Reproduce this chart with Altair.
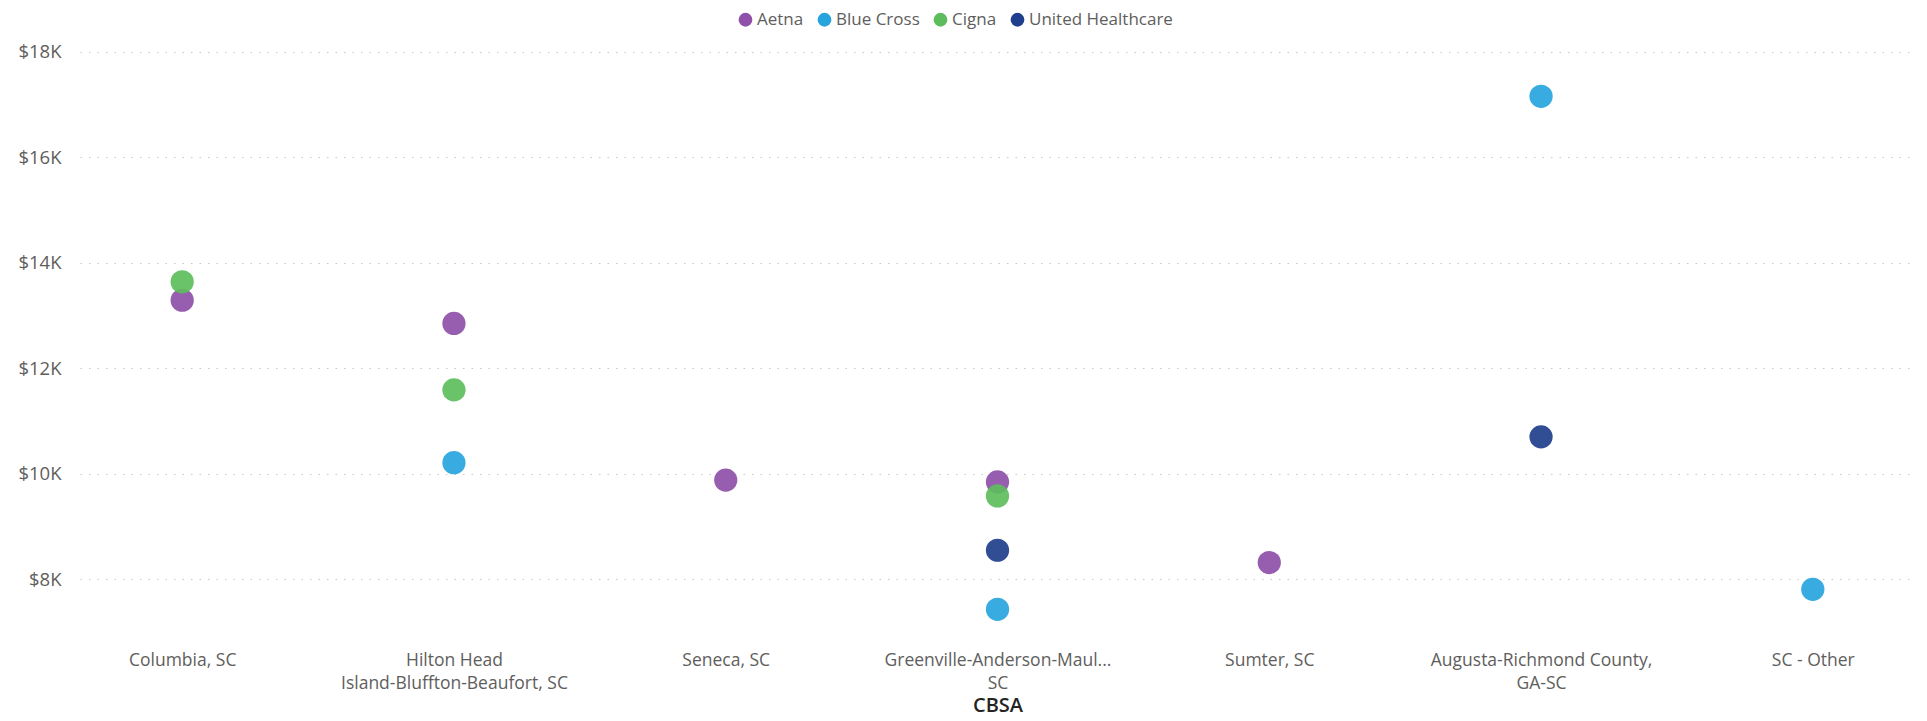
import altair as alt
import pandas as pd

# Categories (x axis), display lines separated by "|"
cbsa = [
    "Columbia, SC",
    "Hilton Head|Island-Bluffton-Beaufort, SC",
    "Seneca, SC",
    "Greenville-Anderson-Maul...|SC",
    "Sumter, SC",
    "Augusta-Richmond County,|GA-SC",
    "SC - Other",
]
insurers = ["Aetna", "Blue Cross", "Cigna", "United Healthcare"]
colors = ["#8E50A8", "#27A4DE", "#5DBD5C", "#1F3F8C"]

# Points
point_cbsa = [
    "Columbia, SC", "Columbia, SC",
    "Hilton Head|Island-Bluffton-Beaufort, SC", "Hilton Head|Island-Bluffton-Beaufort, SC",
    "Hilton Head|Island-Bluffton-Beaufort, SC",
    "Seneca, SC",
    "Greenville-Anderson-Maul...|SC", "Greenville-Anderson-Maul...|SC",
    "Greenville-Anderson-Maul...|SC", "Greenville-Anderson-Maul...|SC",
    "Sumter, SC",
    "Augusta-Richmond County,|GA-SC", "Augusta-Richmond County,|GA-SC",
    "SC - Other",
]
point_insurer = [
    "Aetna", "Cigna",
    "Aetna", "Cigna", "Blue Cross",
    "Aetna",
    "Aetna", "Cigna", "United Healthcare", "Blue Cross",
    "Aetna",
    "Blue Cross", "United Healthcare",
    "Blue Cross",
]
point_value = [
    13290, 13640,
    12850, 11590, 10210,
    9880,
    9845, 9580, 8550, 7430,
    8317,
    17156, 10700,
    7810,
]

df = pd.DataFrame({"CBSA": point_cbsa, "Insurer": point_insurer, "Value": point_value})

y_ticks = [8000, 10000, 12000, 14000, 16000, 18000]

chart = (
    alt.Chart(df)
    .mark_circle(size=540, opacity=0.92)
    .encode(
        x=alt.X(
            "CBSA:N",
            sort=cbsa,
            scale=alt.Scale(domain=cbsa, type="point", padding=0.376),
            axis=alt.Axis(
                title="CBSA",
                labelAngle=0,
                labelExpr="split(datum.label, '|')",
                labelFont="Open Sans",
                labelFontSize=17.5,
                labelColor="#605E5C",
                labelLineHeight=23,
                labelPadding=19,
                labelLimit=0,
                ticks=False,
                domain=False,
                grid=False,
                titleFont="Open Sans",
                titleFontSize=20,
                titleFontWeight=600,
                titleColor="#252423",
                titleBaseline="alphabetic",
                titleY=79,
            ),
        ),
        y=alt.Y(
            "Value:Q",
            scale=alt.Scale(domain=[7000, 18300], nice=False, zero=False),
            axis=alt.Axis(
                title=None,
                values=y_ticks,
                labelExpr="'$' + datum.value / 1000 + 'K'",
                labelFont="Open Sans",
                labelFontSize=18.5,
                labelColor="#605E5C",
                labelPadding=19,
                ticks=False,
                domain=False,
                grid=True,
                gridColor="#C8C8C8",
                gridDash=[1.5, 7],
                gridWidth=1,
            ),
        ),
        color=alt.Color(
            "Insurer:N",
            scale=alt.Scale(domain=insurers, range=colors),
            legend=alt.Legend(
                title=None,
                orient="none",
                direction="horizontal",
                legendX=657,
                legendY=-25,
                symbolType="circle",
                symbolSize=190,
                symbolOpacity=1,
                labelFont="Open Sans",
                labelFontSize=17,
                labelColor="#605E5C",
                labelOffset=3,
                labelLimit=0,
                columnPadding=12,
            ),
        ),
    )
    .properties(
        width=1835,
        height=596,
        background="white",
        autosize=alt.AutoSizeParams(type="none"),
        padding={"left": 72, "top": 28, "right": 4, "bottom": 81},
    )
    .configure_view(stroke=None, strokeWidth=0)
)

chart.save("out.html", embed_options={"renderer": "svg", "actions": False})
